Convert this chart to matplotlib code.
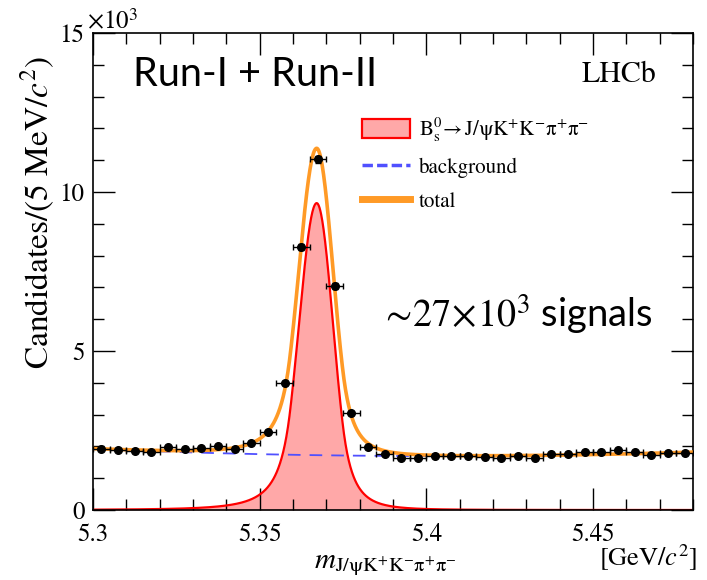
import numpy as np
import matplotlib
matplotlib.use("Agg")
import matplotlib.pyplot as plt
from matplotlib.patches import Patch
from matplotlib.lines import Line2D

# ---- data (thousands of candidates per 5 MeV bin) ----
bin_edges_lo = 5.30
bin_width = 0.005
n_bins = 36
counts = [1.92, 1.89, 1.84, 1.82, 1.97, 1.93, 1.94, 2.00, 1.93, 2.12,
          2.46, 3.98, 8.28, 11.03, 7.04, 3.04, 1.97, 1.76, 1.65, 1.65,
          1.71, 1.71, 1.71, 1.67, 1.63, 1.71, 1.62, 1.77, 1.77, 1.81,
          1.81, 1.89, 1.82, 1.74, 1.78, 1.78]

# fit model parameters
sig_peak = 9.65
sig_mu = 5.3671
sig_sigmaL = 0.0053
sig_sigmaR = 0.0049
sig_alphaL, sig_nL = 1.5, 3.0
sig_alphaR, sig_nR = 1.6, 4.0
bkg_ref = 5.39
bkg_c0, bkg_c1, bkg_c2 = 1.70, -0.556, 21.0

xticks = [5.30, 5.35, 5.40, 5.45]
xticklabels = ["5.3", "5.35", "5.4", "5.45"]
yticks = [0, 5, 10, 15]
yticklabels = ["0", "5", "10", "15"]


def dcb(x):
    out = np.empty_like(x)
    for i, xi in enumerate(x):
        if xi < sig_mu:
            t = (xi - sig_mu) / sig_sigmaL
            a, n = sig_alphaL, sig_nL
            if t > -a:
                out[i] = np.exp(-0.5 * t * t)
            else:
                A = (n / a) ** n * np.exp(-0.5 * a * a)
                B = n / a - a
                out[i] = A * (B - t) ** (-n)
        else:
            t = (xi - sig_mu) / sig_sigmaR
            a, n = sig_alphaR, sig_nR
            if t < a:
                out[i] = np.exp(-0.5 * t * t)
            else:
                A = (n / a) ** n * np.exp(-0.5 * a * a)
                B = n / a - a
                out[i] = A * (B + t) ** (-n)
    return sig_peak * out


def bkg(x):
    u = x - bkg_ref
    return bkg_c0 + bkg_c1 * u + bkg_c2 * u * u


SERIF = 'STIXGeneral'
plt.rcParams['font.family'] = 'serif'
plt.rcParams['font.serif'] = [SERIF]
plt.rcParams['mathtext.fontset'] = 'stix'

fig = plt.figure(figsize=(7.07, 5.80), dpi=100)
ax = fig.add_axes([93 / 707, 1 - 510 / 580, 600 / 707, 477 / 580])

centers = bin_edges_lo + bin_width * (np.arange(n_bins) + 0.5)
counts = np.array(counts)
xs = np.linspace(5.30, 5.48, 1500)
s = dcb(xs)
b = bkg(xs)

ax.fill_between(xs, 0, s, color='#ffa8a8', lw=0, zorder=1)
ax.plot(xs, s, color='#ff0000', lw=1.6, zorder=2)
ax.plot(xs, b, color='#5050ff', lw=1.3, ls=(0, (7, 5)), zorder=3)
ax.plot(xs, s + b, color='#ff9a26', lw=2.6, zorder=4)
ax.errorbar(centers, counts, xerr=bin_width / 2, yerr=np.sqrt(counts * 1000) / 1000,
            fmt='o', color='black', ms=5.5, elinewidth=1.0, capsize=2.5,
            capthick=1.0, zorder=5)

ax.set_xlim(5.30, 5.48)
ax.set_ylim(0, 15)
ax.tick_params(which='both', direction='in', top=True, right=True,
               labelsize=18, width=1.0, labelfontfamily=SERIF)
ax.tick_params(axis='x', pad=9)
ax.tick_params(axis='y', pad=6)
ax.set_xticks(xticks)
ax.set_xticklabels(xticklabels, fontfamily=SERIF)
ax.set_yticks(yticks)
ax.set_yticklabels(yticklabels, fontfamily=SERIF)
ax.set_xticks(np.arange(5.30, 5.4801, 0.01), minor=True)
ax.set_yticks(np.arange(0, 15.01, 1), minor=True)
ax.tick_params(which='major', length=16)
ax.tick_params(which='minor', length=8)
for sp in ax.spines.values():
    sp.set_linewidth(1.2)

fig.text(87 / 707, 1 - 23 / 580, r'$\times10^{3}$', fontsize=18, ha='left', va='center')
fig.text(38 / 707, 1 - 212 / 580, r'Candidates/(5 MeV/$c^{2}$)', fontsize=24,
         fontfamily=SERIF, rotation=90, ha='center', va='center')
fig.text(385 / 707, 1 - 565 / 580,
         r'$m_{\mathrm{J/\psi K^{+}K^{-}\pi^{+}\pi^{-}}}$', fontsize=21,
         ha='center', va='center')
fig.text(697 / 707, 1 - 558 / 580, r'[GeV/$c^{2}$]', fontsize=19,
         fontfamily=SERIF, ha='right', va='center')

ax.text(619 / 707, 1 - 75 / 580, 'LHCb', transform=fig.transFigure, fontsize=21.5,
        fontfamily=SERIF, ha='center', va='center')
ax.text(133 / 707, 1 - 75 / 580, 'Run-I + Run-II', transform=fig.transFigure,
        fontsize=28.5, fontfamily='Lato', ha='left', va='center')
ax.text(380 / 707, 1 - 314 / 580, r'$\sim\!27\!\times\!10^{3}$ signals',
        transform=fig.transFigure,
        fontsize=27.5, fontfamily='Lato', ha='left', va='center')

handles = [Patch(facecolor='#ffa8a8', edgecolor='#ff0000', lw=1.6),
           Line2D([], [], color='#5050ff', lw=2.5, ls=(0, (3, 1.2))),
           Line2D([], [], color='#ff9a26', lw=5)]
labels = [r'$\mathrm{B_s^0\!\rightarrow J/\psi K^{+}K^{-}\pi^{+}\pi^{-}}$',
          'background', 'total']
leg = ax.legend(handles, labels, loc='upper left', bbox_to_anchor=(0.448, 0.827),
                frameon=False, handlelength=2.3, handleheight=1.0,
                labelspacing=0.62, handletextpad=0.45, borderaxespad=0,
                borderpad=0, prop={'family': SERIF, 'size': 15})

fig.savefig('out.png', dpi=100)
